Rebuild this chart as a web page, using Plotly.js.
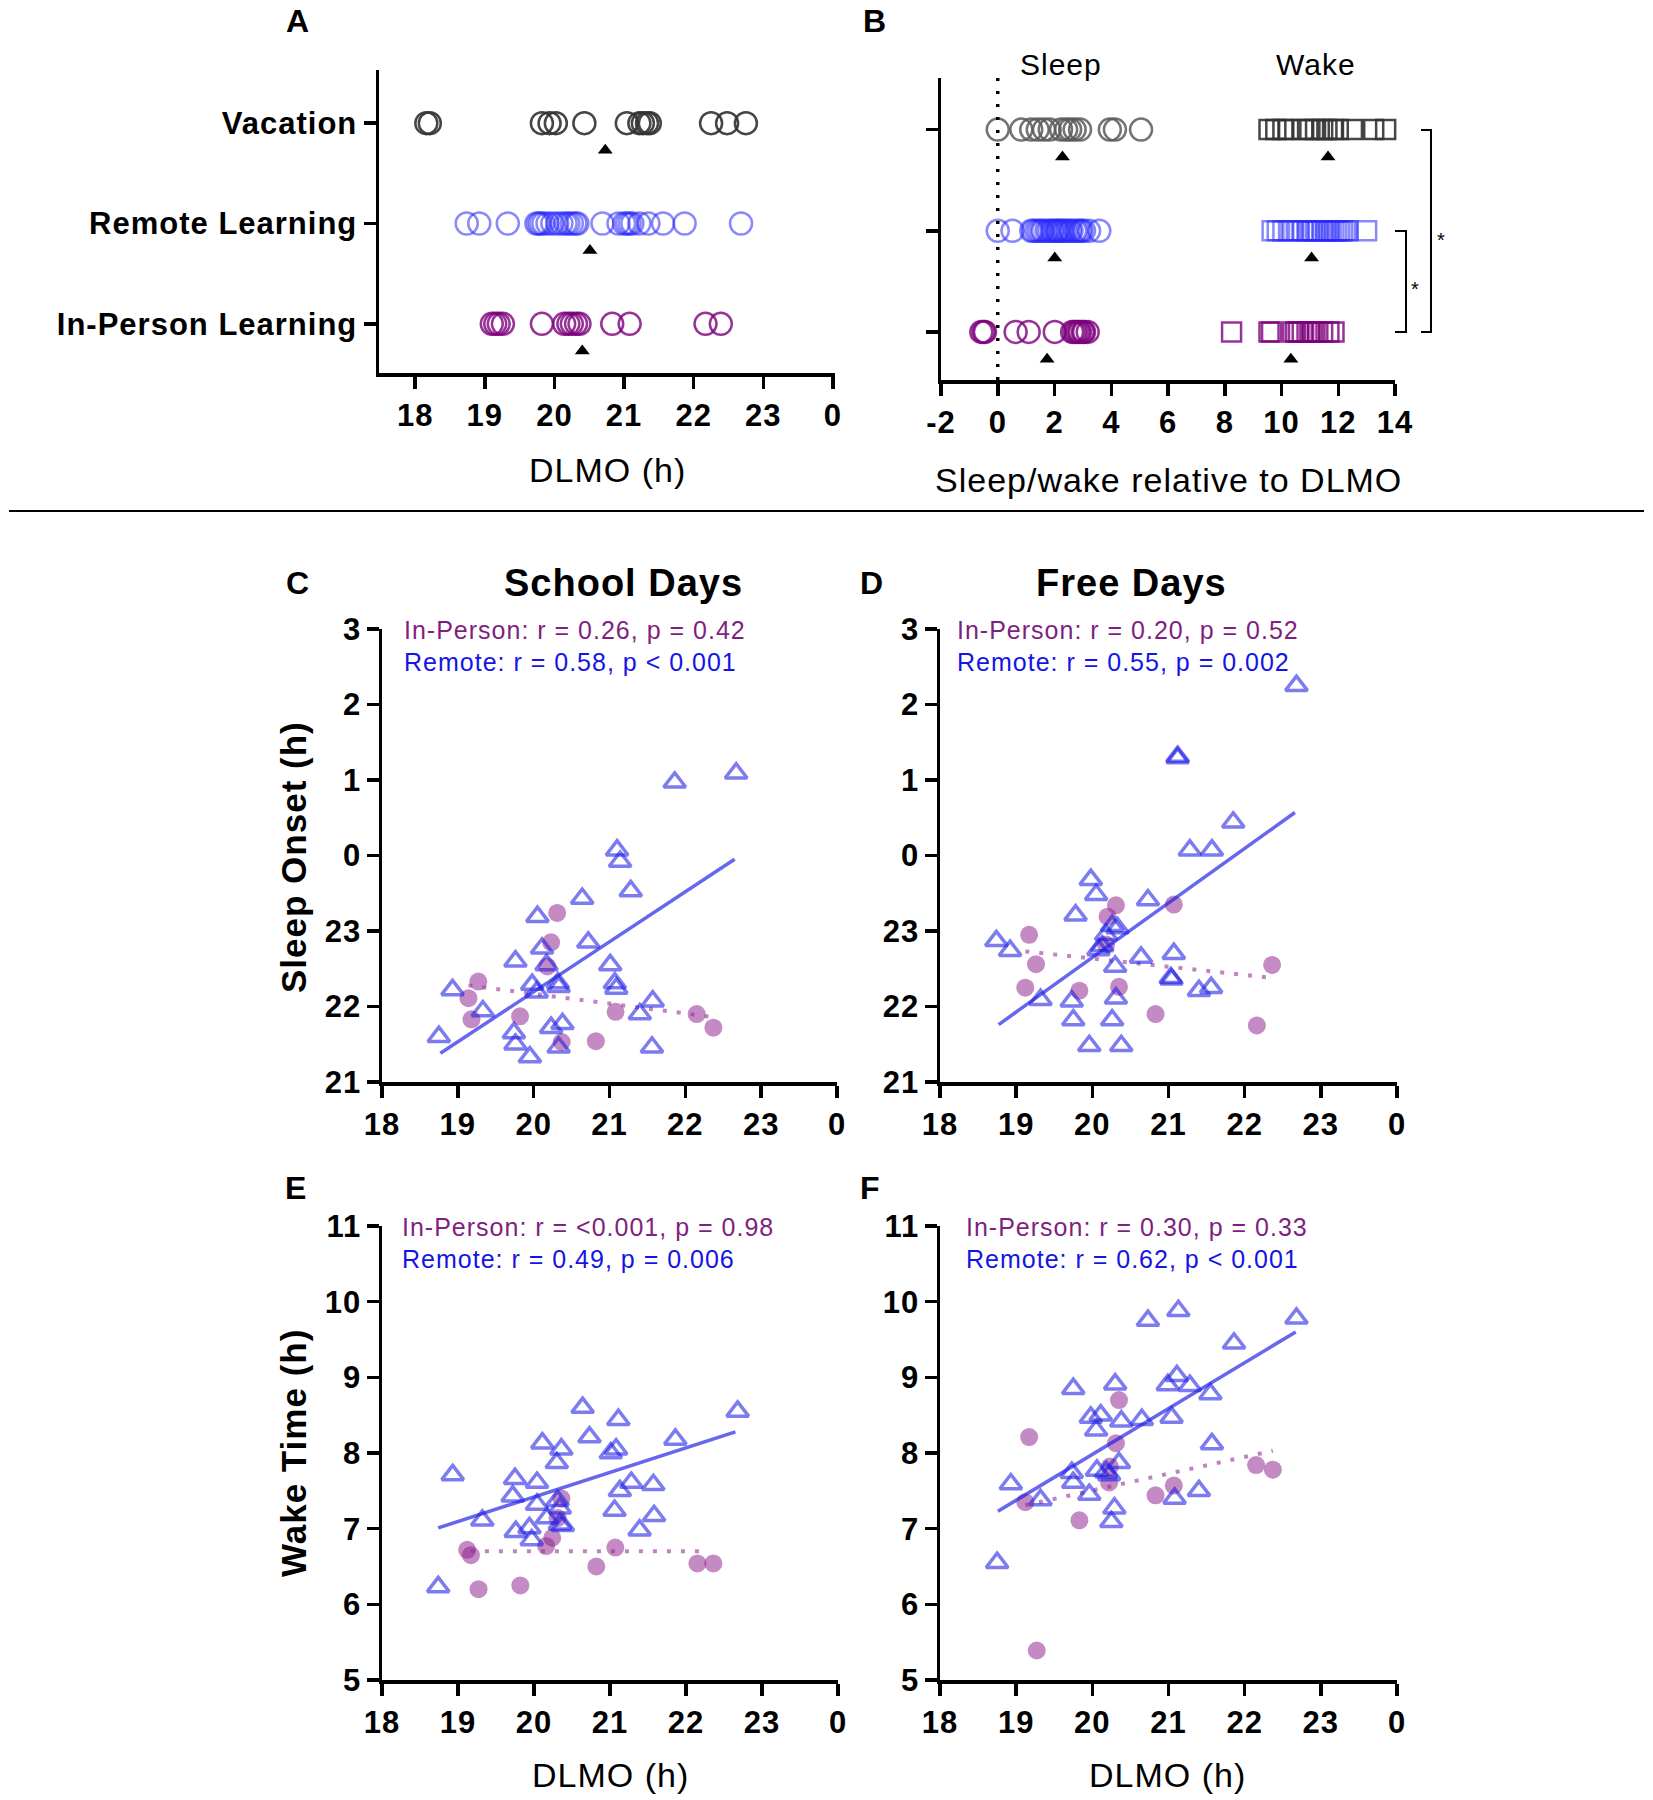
<!DOCTYPE html>
<html>
<head>
<meta charset="utf-8">
<script src="https://cdn.plot.ly/plotly-3.0.1.min.js"></script>
<style>
  body { margin: 0; background: #fff; }
  #chart { width: 1653px; height: 1800px; }
  text { letter-spacing: 1px; }
</style>
</head>
<body>
<div id="chart"></div>
<script>
"use strict";

// rows of panels A and B, bottom to top
const groups = ['In-Person Learning', 'Remote Learning', 'Vacation'];

const dlmoTicks = [18, 19, 20, 21, 22, 23, 24];
const dlmoLabels = ['18', '19', '20', '21', '22', '23', '0'];
const relTicks = [-2, 0, 2, 4, 6, 8, 10, 12, 14];
const relLabels = ['-2', '0', '2', '4', '6', '8', '10', '12', '14'];
const onsetTicks = [21, 22, 23, 24, 25, 26, 27];
const onsetLabels = ['21', '22', '23', '0', '1', '2', '3'];
const wakeTicks = [5, 6, 7, 8, 9, 10, 11];

// A: DLMO by condition
const aInPerson = [19.1, 19.15, 19.2, 19.26, 19.82, 20.14, 20.2, 20.25, 20.31, 20.36, 20.83, 21.08, 22.17, 22.39];
const aRemote = [18.74, 18.92, 19.33, 19.74, 19.77, 19.8, 19.84, 19.9, 19.97, 20.04, 20.1, 20.16, 20.2, 20.25,
                 20.3, 20.33, 20.69, 20.92, 21.0, 21.04, 21.08, 21.12, 21.22, 21.35, 21.56, 21.87, 22.68];
const aVacation = [18.16, 18.21, 19.82, 19.93, 20.02, 20.43, 21.04, 21.22, 21.27, 21.33, 21.37, 22.25, 22.48, 22.75];
const aMeans = [20.40, 20.51, 20.73];

// B: sleep / wake relative to DLMO
const bSleepIn = [-0.58, -0.5, -0.45, 0.63, 1.09, 2.01, 2.62, 2.7, 2.77, 2.85, 2.9, 3.0, 3.04, 3.17];
const bWakeIn = [8.24, 9.56, 9.65, 10.4, 10.5, 10.6, 10.73, 10.9, 11.0, 11.1, 11.28, 11.45, 11.67, 11.85];
const bSleepRem = [0, 0.52, 1.18, 1.25, 1.36, 1.45, 1.54, 1.6, 1.72, 1.8, 1.9, 1.95, 2.05, 2.1, 2.15, 2.23,
                   2.3, 2.37, 2.45, 2.55, 2.6, 2.73, 2.8, 2.9, 2.95, 3.04, 3.22, 3.58];
const bWakeRem = [9.67, 9.85, 10.05, 10.25, 10.4, 10.6, 10.75, 10.9, 11.0, 11.1, 11.2, 11.3, 11.45, 11.55,
                  11.65, 11.75, 11.85, 11.95, 12.05, 12.15, 12.25, 12.35, 13.0];
const bSleepVac = [0.0, 0.83, 1.18, 1.41, 1.63, 1.83, 2.23, 2.41, 2.55, 2.71, 2.9, 3.95, 4.13, 5.05];
const bWakeVac = [9.56, 9.8, 10.05, 10.25, 10.75, 11.0, 11.2, 11.45, 11.6, 11.8, 12.0, 12.5, 13.25, 13.67];
const bSleepMeans = [1.74, 2.01, 2.28];
const bWakeMeans = [10.33, 11.06, 11.64];

// C: school days, sleep onset
const cRemoteX = [18.75, 18.93, 19.33, 19.76, 19.74, 19.76, 19.95, 19.98, 20.04, 20.05, 20.11, 20.17, 20.32, 20.33, 20.23,
                  20.38, 20.33, 20.64, 20.72, 21.01, 21.07, 21.09, 21.10, 21.14, 21.28, 21.40, 21.57, 21.56, 21.86, 22.67];
const cRemoteY = [21.60, 22.22, 21.94, 22.60, 21.65, 21.50, 21.33, 22.29, 22.19, 23.19, 22.77, 22.55, 22.31, 22.26, 21.72,
                  21.77, 21.46, 23.43, 22.85, 22.55, 22.31, 22.24, 24.07, 23.92, 23.53, 21.90, 22.07, 21.46, 24.97, 25.09];
const cInX = [19.14, 19.27, 19.18, 19.82, 20.31, 20.23, 20.18, 20.37, 20.82, 21.08, 22.15, 22.37];
const cInY = [22.11, 22.33, 21.83, 21.87, 23.24, 22.85, 22.53, 21.53, 21.54, 21.93, 21.90, 21.72];
const cRemoteFitX = [18.77, 22.65], cRemoteFitY = [21.38, 23.95];
const cInFitX = [19.14, 22.37], cInFitY = [22.28, 21.86];

// D: free days, sleep onset
const dRemoteX = [18.74, 18.92, 19.32, 19.73, 19.75, 19.78, 19.96, 19.98, 20.05, 20.08, 20.13, 20.18, 20.26, 20.33, 20.30, 20.31,
                  20.26, 20.38, 20.64, 20.73, 21.07, 21.03, 21.04, 21.12, 21.12, 21.28, 21.40, 21.56, 21.57, 21.85, 22.68];
const dRemoteY = [22.87, 22.74, 22.09, 22.07, 21.82, 23.21, 21.48, 23.68, 23.48, 22.75, 22.80, 22.95, 23.07, 23.04, 22.53, 22.11,
                  21.82, 21.48, 22.65, 23.41, 22.70, 22.38, 22.36, 25.29, 25.31, 24.07, 22.21, 22.25, 24.07, 24.44, 26.25];
const dInX = [19.17, 19.26, 19.12, 19.83, 20.31, 20.20, 20.18, 20.35, 20.83, 21.07, 22.16, 22.36];
const dInY = [22.95, 22.56, 22.25, 22.21, 23.34, 23.19, 22.82, 22.26, 21.90, 23.35, 21.75, 22.55];
const dRemoteFitX = [18.77, 22.66], dRemoteFitY = [21.76, 24.57];
const dInFitX = [19.12, 22.36], dInFitY = [22.73, 22.38];

// E: school days, wake time
const eRemoteX = [18.74, 18.93, 19.32, 19.75, 19.72, 19.76, 19.94, 19.97, 20.04, 20.04, 20.11, 20.17, 20.30, 20.36, 20.31, 20.34,
                  20.34, 20.38, 20.64, 20.73, 21.01, 21.08, 21.11, 21.06, 21.13, 21.28, 21.39, 21.57, 21.58, 21.86, 22.68];
const eRemoteY = [6.23, 7.71, 7.11, 7.66, 7.43, 6.96, 7.01, 6.85, 7.61, 7.32, 8.13, 7.14, 7.87, 8.05, 7.37, 7.27,
                  7.06, 7.04, 8.60, 8.21, 8.00, 8.05, 8.44, 7.24, 7.50, 7.61, 6.98, 7.58, 7.17, 8.18, 8.55];
const eInX = [19.12, 19.17, 19.27, 19.82, 20.16, 20.24, 20.36, 20.82, 21.07, 22.15, 22.36, 20.31];
const eInY = [6.72, 6.65, 6.20, 6.25, 6.77, 6.88, 7.40, 6.50, 6.75, 6.54, 6.54, 7.14];
const eRemoteFitX = [18.74, 22.65], eRemoteFitY = [7.01, 8.28];
const eInFitX = [19.17, 22.19], eInFitY = [6.70, 6.70];

// F: free days, wake time
const fRemoteX = [18.75, 18.93, 19.32, 19.73, 19.75, 19.75, 19.96, 19.98, 20.05, 20.11, 20.06, 20.18, 20.22, 20.29, 20.25, 20.30,
                  20.38, 20.35, 20.65, 20.73, 20.99, 21.04, 21.08, 21.11, 21.13, 21.28, 21.40, 21.55, 21.57, 21.86, 22.68];
const fRemoteY = [6.55, 7.59, 7.38, 7.74, 7.61, 8.85, 7.45, 8.47, 8.30, 8.50, 7.77, 7.75, 7.71, 7.27, 7.09, 8.91,
                  8.42, 7.87, 8.44, 9.75, 8.90, 8.47, 7.40, 9.02, 9.88, 8.89, 7.50, 8.78, 8.12, 9.45, 9.78];
const fInX = [19.17, 19.12, 19.27, 19.83, 20.22, 20.23, 20.31, 20.35, 20.83, 21.07, 22.15, 22.37];
const fInY = [8.21, 7.35, 5.39, 7.11, 7.61, 7.82, 8.13, 8.70, 7.44, 7.57, 7.84, 7.78];
const fRemoteFitX = [18.76, 22.67], fRemoteFitY = [7.23, 9.60];
const fInFitX = [19.12, 22.37], fInFitY = [7.31, 8.03];

const W = 1653, H = 1800;
const FONT = 'Liberation Sans, Arial, Helvetica, sans-serif';
const MEAN_DROP = 0.27;

const GREY = 'rgba(50,50,50,0.9)',
      GREY_LIGHT = 'rgba(90,90,90,0.85)',
      BLUE_OPEN = 'rgba(40,40,250,0.55)',
      PURPLE_OPEN = 'rgba(125,0,125,0.8)',
      TRI_BLUE = 'rgba(30,30,230,0.58)',
      DOT_PURPLE = 'rgba(140,30,140,0.52)',
      FIT_BLUE = 'rgba(30,30,230,0.68)',
      FIT_PURPLE = 'rgba(150,50,150,0.6)';

function fx(p) { return p / W; }
function fy(p) { return 1 - p / H; }

function bold(size) {
    return {family: FONT, size: size, color: 'black', weight: 'bold'};
}

function plain(size, color) {
    return {family: FONT, size: size, color: color || 'black'};
}

function strip(xs, row, symbol, size, color, xa, ya) {
    return {
        x: xs, y: xs.map(() => row), xaxis: xa, yaxis: ya,
        type: 'scatter', mode: 'markers', cliponaxis: false, hoverinfo: 'skip',
        marker: {symbol: symbol, size: size, color: color, line: {color: color, width: 2.5}}
    };
}

function means(xs, xa, ya) {
    return {
        x: xs, y: xs.map((_, i) => i - MEAN_DROP), xaxis: xa, yaxis: ya,
        type: 'scatter', mode: 'markers', cliponaxis: false, hoverinfo: 'skip',
        marker: {symbol: 'triangle-up', size: 13, color: 'black'}
    };
}

function scatterPanel(n, remX, remY, inX, inY, remFitX, remFitY, inFitX, inFitY) {
    let xa = 'x' + n, ya = 'y' + n;
    return [
        {x: inX, y: inY, xaxis: xa, yaxis: ya, type: 'scatter', mode: 'markers', cliponaxis: false,
         marker: {symbol: 'circle', size: 18, color: DOT_PURPLE, line: {width: 0}}},
        {x: inFitX, y: inFitY, xaxis: xa, yaxis: ya, type: 'scatter', mode: 'lines',
         line: {color: FIT_PURPLE, width: 4, dash: '4px,10px'}},
        {x: remFitX, y: remFitY, xaxis: xa, yaxis: ya, type: 'scatter', mode: 'lines',
         line: {color: FIT_BLUE, width: 3.5}},
        {x: remX, y: remY, xaxis: xa, yaxis: ya, type: 'scatter', mode: 'markers', cliponaxis: false,
         marker: {symbol: 'triangle-up-open', size: 19, color: TRI_BLUE, line: {color: TRI_BLUE, width: 3.5}}}
    ];
}

function axis(domain, anchor, extra) {
    return Object.assign({
        domain: domain, anchor: anchor,
        showline: true, linewidth: 3.5, linecolor: 'black', mirror: false,
        ticks: 'outside', ticklen: 12, tickwidth: 3.5, tickcolor: 'black',
        showgrid: false, zeroline: false, fixedrange: true,
        tickfont: bold(31)
    }, extra);
}

function label(text, px, py, font, opts) {
    return Object.assign({
        text: text, x: fx(px), y: fy(py), xref: 'paper', yref: 'paper',
        xanchor: 'center', yanchor: 'middle', showarrow: false, font: font
    }, opts || {});
}

function rLabels(px, py1, py2, inText, remText) {
    return [
        label(inText, px, py1, plain(25, '#7f1f7f'), {xanchor: 'left'}),
        label(remText, px, py2, plain(25, '#1414e6'), {xanchor: 'left'})
    ];
}

function bracket(xl, xr, ytop, ybot) {
    return {
        type: 'path', xref: 'paper', yref: 'paper',
        path: 'M ' + fx(xl) + ' ' + fy(ytop) + ' L ' + fx(xr) + ' ' + fy(ytop) +
              ' L ' + fx(xr) + ' ' + fy(ybot) + ' L ' + fx(xl) + ' ' + fy(ybot),
        line: {color: 'black', width: 2}
    };
}

function main() {
    let traces = [
        strip(aInPerson, 0, 'circle-open', 22, PURPLE_OPEN, 'x', 'y'),
        strip(aRemote, 1, 'circle-open', 22, BLUE_OPEN, 'x', 'y'),
        strip(aVacation, 2, 'circle-open', 22, GREY, 'x', 'y'),
        means(aMeans, 'x', 'y'),

        strip(bSleepIn, 0, 'circle-open', 22, PURPLE_OPEN, 'x2', 'y2'),
        strip(bWakeIn, 0, 'square-open', 19, PURPLE_OPEN, 'x2', 'y2'),
        strip(bSleepRem, 1, 'circle-open', 22, BLUE_OPEN, 'x2', 'y2'),
        strip(bWakeRem, 1, 'square-open', 19, BLUE_OPEN, 'x2', 'y2'),
        strip(bSleepVac, 2, 'circle-open', 22, GREY_LIGHT, 'x2', 'y2'),
        strip(bWakeVac, 2, 'square-open', 19, GREY, 'x2', 'y2'),
        means(bSleepMeans, 'x2', 'y2'),
        means(bWakeMeans, 'x2', 'y2')
    ];
    traces = traces.concat(
        scatterPanel(3, cRemoteX, cRemoteY, cInX, cInY, cRemoteFitX, cRemoteFitY, cInFitX, cInFitY),
        scatterPanel(4, dRemoteX, dRemoteY, dInX, dInY, dRemoteFitX, dRemoteFitY, dInFitX, dInFitY),
        scatterPanel(5, eRemoteX, eRemoteY, eInX, eInY, eRemoteFitX, eRemoteFitY, eInFitX, eInFitY),
        scatterPanel(6, fRemoteX, fRemoteY, fInX, fInY, fRemoteFitX, fRemoteFitY, fInFitX, fInFitY));

    let dlmoAxis = {range: [18, 24], tickvals: dlmoTicks, ticktext: dlmoLabels};
    let onsetAxis = {range: [21, 27], tickvals: onsetTicks, ticktext: onsetLabels, ticklabelstandoff: -1};
    let wakeAxis = {range: [5, 11], tickvals: wakeTicks, ticklabelstandoff: -1};
    let yRowsB = [-0.475, 2.51];

    let layout = {
        width: W, height: H,
        margin: {l: 0, r: 0, t: 0, b: 0},
        paper_bgcolor: 'white', plot_bgcolor: 'rgba(0,0,0,0)',
        showlegend: false, hovermode: false,
        font: {family: FONT, color: 'black'},

        xaxis: axis([fx(379), fx(835)], 'y', {range: [17.48, 24.03], tickvals: dlmoTicks, ticktext: dlmoLabels}),
        yaxis: axis([fy(373), fy(70)], 'x', {range: [-0.49, 2.53], tickvals: [0, 1, 2], ticktext: groups}),
        xaxis2: axis([fx(941), fx(1395)], 'y2', {range: [-2, 14], tickvals: relTicks, ticktext: relLabels}),
        yaxis2: axis([fy(380), fy(78)], 'x2', {range: yRowsB, tickvals: [0, 1, 2], showticklabels: false}),

        xaxis3: axis([fx(382), fx(837)], 'y3', dlmoAxis),
        yaxis3: axis([fy(1082), fy(629)], 'x3', onsetAxis),
        xaxis4: axis([fx(940), fx(1397)], 'y4', dlmoAxis),
        yaxis4: axis([fy(1082), fy(629)], 'x4', onsetAxis),
        xaxis5: axis([fx(382), fx(838)], 'y5', dlmoAxis),
        yaxis5: axis([fy(1680), fy(1226)], 'x5', wakeAxis),
        xaxis6: axis([fx(940), fx(1397)], 'y6', dlmoAxis),
        yaxis6: axis([fy(1680), fy(1226)], 'x6', wakeAxis),

        shapes: [
            {type: 'line', xref: 'paper', yref: 'paper', x0: fx(9), x1: fx(1644), y0: fy(511), y1: fy(511),
             line: {color: 'black', width: 2}},
            {type: 'line', xref: 'x2', yref: 'y2', x0: 0, x1: 0, y0: yRowsB[0], y1: yRowsB[1],
             line: {color: 'black', width: 3.5, dash: '3px,10px'}},
            bracket(1421, 1431, 130, 332),
            bracket(1395, 1406, 231, 332)
        ],

        annotations: [
            label('A', 298, 21, bold(32)),
            label('B', 875, 21, bold(32)),
            label('C', 298, 583, bold(32)),
            label('D', 872, 583, bold(32)),
            label('E', 296, 1188, bold(32)),
            label('F', 870, 1188, bold(32)),

            label('Sleep', 1061, 65, plain(30)),
            label('Wake', 1316, 65, plain(30)),
            label('DLMO (h)', 607, 470, plain(34)),
            label('Sleep/wake relative to DLMO', 1168, 480, plain(34)),
            label('*', 1441, 240, plain(20)),
            label('*', 1415, 289, plain(20)),

            label('School Days', 623, 583, bold(38)),
            label('Free Days', 1131, 583, bold(38)),
            label('Sleep Onset (h)', 293, 857, bold(35), {textangle: -90}),
            label('Wake Time (h)', 293, 1453, bold(35), {textangle: -90}),
            label('DLMO (h)', 610, 1775, plain(34)),
            label('DLMO (h)', 1167, 1775, plain(34))
        ].concat(
            rLabels(402, 630, 662, 'In-Person: r = 0.26, p = 0.42', 'Remote: r = 0.58, p < 0.001'),
            rLabels(955, 630, 662, 'In-Person: r = 0.20, p = 0.52', 'Remote: r = 0.55, p = 0.002'),
            rLabels(400, 1227, 1259, 'In-Person: r = <0.001, p = 0.98', 'Remote: r = 0.49, p = 0.006'),
            rLabels(964, 1227, 1259, 'In-Person: r = 0.30, p = 0.33', 'Remote: r = 0.62, p < 0.001'))
    };

    Plotly.newPlot('chart', traces, layout, {staticPlot: true, displayModeBar: false});
}

document.addEventListener("DOMContentLoaded", event => main());
</script>
</body>
</html>
